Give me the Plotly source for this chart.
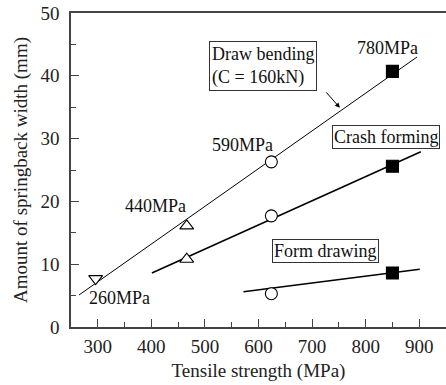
import plotly.graph_objects as go

# Data
db_x = [296, 466, 624, 850]
db_y = [7.7, 16.1, 26.3, 40.7]
db_sym = ["triangle-down-open", "triangle-up-open", "circle", "square"]
cf_x = [466, 624, 850]
cf_y = [10.8, 17.7, 25.6]
cf_sym = ["triangle-up-open", "circle", "square"]
fd_x = [624, 850]
fd_y = [5.3, 8.6]
fd_sym = ["circle", "square"]

db_line_x = [265, 896]
db_line_y = [5.1, 43.0]
cf_line_x = [401, 903]
cf_line_y = [8.6, 27.9]
fd_line_x = [572, 901]
fd_line_y = [5.6, 9.2]

strength_labels = ["780MPa", "590MPa", "440MPa", "260MPa"]
strength_x = [840, 570, 408, 341]
strength_y = [44.4, 29.0, 19.3, 4.6]

FONT = "Liberation Serif, Times New Roman, serif"

fig = go.Figure()

def marker_fill(syms):
    return ["black" if s == "square" else "white" for s in syms]

for lx, ly, w in [(db_line_x, db_line_y, 1), (cf_line_x, cf_line_y, 1.6), (fd_line_x, fd_line_y, 1.6)]:
    fig.add_trace(go.Scatter(x=lx, y=ly, mode="lines", line=dict(color="black", width=w),
                             showlegend=False, hoverinfo="skip"))

for xs, ys, syms in [(db_x, db_y, db_sym), (cf_x, cf_y, cf_sym), (fd_x, fd_y, fd_sym)]:
    fig.add_trace(go.Scatter(
        x=xs, y=ys, mode="markers", showlegend=False, hoverinfo="skip",
        marker=dict(symbol=[s.replace("-open", "") for s in syms], size=12,
                    color=marker_fill(syms), line=dict(color="black", width=1.1))))

for t, x, y in zip(strength_labels, strength_x, strength_y):
    fig.add_annotation(x=x, y=y, text=t, showarrow=False,
                       font=dict(family=FONT, size=18, color="#111"))

box_font = dict(family=FONT, size=18, color="#111")
fig.add_annotation(x=507.6, y=45.5, xanchor="left", yanchor="top",
                   text="Draw bending<br>(C = 160kN)", align="left", showarrow=False,
                   font=box_font, bordercolor="#333", borderwidth=1, borderpad=2, bgcolor="white")
fig.add_annotation(x=752, y=34.9, ax=724, ay=37.6, axref="x", ayref="y", text="",
                   showarrow=True, arrowhead=2, arrowsize=1, arrowwidth=1, arrowcolor="black")
fig.add_annotation(x=737, y=32.2, xanchor="left", yanchor="top",
                   text="Crash forming", showarrow=False,
                   font=box_font, bordercolor="#333", borderwidth=1, borderpad=1, bgcolor="white")
fig.add_annotation(x=625, y=14.0, xanchor="left", yanchor="top",
                   text="Form drawing", showarrow=False,
                   font=box_font, bordercolor="#333", borderwidth=1, borderpad=1, bgcolor="white")

axis_common = dict(showgrid=False, zeroline=False, showline=True, linecolor="#444", linewidth=1.5,
                   ticks="inside", tickcolor="#444", tickwidth=1.2, ticklen=8, automargin=False,
                   tickfont=dict(family=FONT, size=19, color="#222"))

fig.update_layout(
    width=446, height=385,
    margin=dict(l=71, r=0, t=13, b=58),
    paper_bgcolor="white", plot_bgcolor="white",
    font=dict(family=FONT, color="#222"),
    xaxis=dict(range=[250, 950], tickvals=[300, 400, 500, 600, 700, 800, 900],
               mirror=True, ticklabelstandoff=1,
               minor=dict(dtick=50, tick0=250, ticks="inside", ticklen=5, tickcolor="#444"),
               title=dict(text="Tensile strength (MPa)", font=dict(family=FONT, size=19), standoff=8),
               **axis_common),
    yaxis=dict(range=[0, 50], tickvals=[0, 10, 20, 30, 40, 50], ticklabelstandoff=6,
               minor=dict(dtick=5, ticks="inside", ticklen=5, tickcolor="#444"),
               title=dict(text="Amount of springback width (mm)", font=dict(family=FONT, size=19), standoff=8),
               **axis_common),
)

fig.write_html("out.html", config={"displayModeBar": False},
               post_script="document.body.style.margin='0';document.body.style.overflow='hidden';")
